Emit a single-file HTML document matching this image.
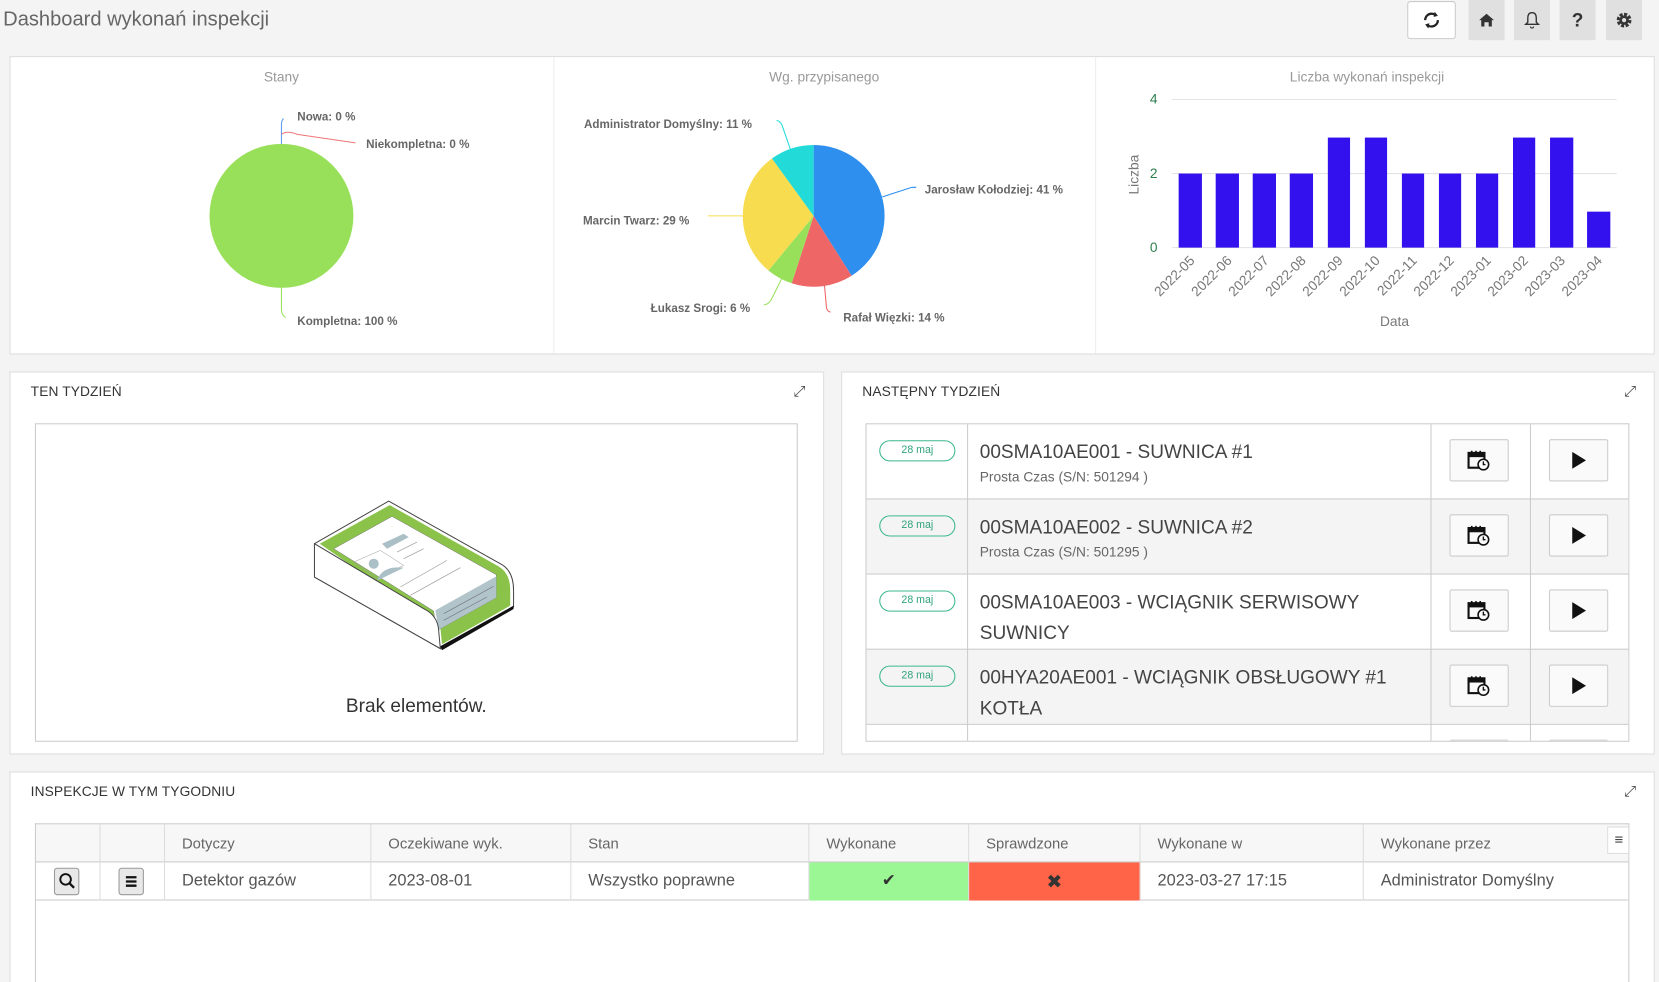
<!DOCTYPE html>
<html><head><meta charset="utf-8"><style>
html,body{margin:0;padding:0;background:#f4f4f4;overflow:hidden;width:1659px;height:982px}
#w{position:absolute;left:0;top:0;width:1568px;height:928px;overflow:hidden;transform:scale(1.05804,1.0582);transform-origin:0 0;font-family:"Liberation Sans",sans-serif;color:#444}
.a{position:absolute}
.panel{position:absolute;background:#fff;border:1px solid #ddd;box-sizing:border-box}
.btn{position:absolute;background:#e0e0e0;display:flex;align-items:center;justify-content:center;font-weight:bold;color:#333}
.ptitle{position:absolute;font-size:13px;color:#333;letter-spacing:0.1px}
.lbl{font-size:11px;font-weight:bold;fill:#666}
.hd{position:absolute;top:0;height:36px;line-height:36px;font-size:14px;color:#666;padding-left:16px;box-sizing:border-box;border-right:1px solid #ddd}
.cell{position:absolute;top:36px;height:36px;line-height:36px;font-size:15.5px;color:#555;padding-left:16px;box-sizing:border-box;border-right:1px solid #ddd}
.badge{position:absolute;left:12px;top:16px;width:72px;height:20px;border:1.3px solid #3cb88c;border-radius:10px;font-size:10px;color:#2fa37a;text-align:center;line-height:18px;box-sizing:border-box}
.sbtn{position:absolute;width:56px;height:40px;background:#fafafa;border:1px solid #ccc;border-radius:2px;box-sizing:border-box;display:flex;align-items:center;justify-content:center}
</style></head><body><div id="w">
<div class="a" style="left:3px;top:8px;font-size:19px;color:#666">Dashboard wykonań inspekcji</div>
<div class="btn" style="left:1330px;top:1px;width:46px;height:36px;background:#fff;border:1px solid #ccc;border-radius:3px;box-sizing:border-box"><svg width="18" height="18" viewBox="0 0 18 18"><path d="M3 9a6 6 0 0 1 10.5-4" stroke="#222" stroke-width="2.2" fill="none"/><path d="M15 9a6 6 0 0 1-10.5 4" stroke="#222" stroke-width="2.2" fill="none"/><path d="M12 1l3 4-4 1z" fill="#222"/><path d="M6 17l-3-4 4-1z" fill="#222"/></svg></div>
<div class="btn" style="left:1388px;top:0;width:34px;height:38px"><svg width="16" height="16" viewBox="0 0 16 16"><path d="M1 8L8 2l7 6h-2v6H10v-4H6v4H3V8z" fill="#333"/></svg></div>
<div class="btn" style="left:1431px;top:0;width:34px;height:38px"><svg width="16" height="18" viewBox="0 0 16 18"><path d="M8 2c-3 0-4 2-4 5v4l-2 2h12l-2-2V7c0-3-1-5-4-5z" stroke="#333" stroke-width="1.3" fill="none"/><path d="M6.5 15a1.5 1.5 0 0 0 3 0" stroke="#333" fill="none"/></svg></div>
<div class="btn" style="left:1474px;top:0;width:34px;height:38px;font-size:18px">?</div>
<div class="btn" style="left:1518px;top:0;width:34px;height:38px"><svg width="16" height="16" viewBox="0 0 16 16"><circle cx="8" cy="8" r="5" fill="none" stroke="#333" stroke-width="4" stroke-dasharray="2.6 1.3"/><circle cx="8" cy="8" r="4.5" fill="#333"/><circle cx="8" cy="8" r="2" fill="#e0e0e0"/></svg></div>

<div class="panel" style="left:9px;top:53px;width:1555px;height:282px"></div>
<div class="a" style="left:523px;top:54px;width:1px;height:280px;background:#eee"></div>
<div class="a" style="left:1035px;top:54px;width:1px;height:280px;background:#eee"></div>
<svg class="a" style="left:0;top:0" width="1568" height="340">
<text x="266" y="77" text-anchor="middle" font-size="13" fill="#999">Stany</text>
<text x="779" y="77" text-anchor="middle" font-size="13" fill="#999">Wg. przypisanego</text>
<text x="1292" y="77" text-anchor="middle" font-size="13" fill="#999">Liczba wykonań inspekcji</text>
<circle cx="266" cy="204" r="68" fill="#98e05a"/>
<path d="M266 136 V118 q0-4 2-6" stroke="#5b9cf0" fill="none"/>
<path d="M266 127 q5-4 15 0 l55 8" stroke="#ee7777" fill="none"/>
<path d="M266 272 v20 q0 6 4 8" stroke="#98e05a" fill="none"/>
<text x="281" y="114" class="lbl">Nowa: 0 %</text>
<text x="346" y="140" class="lbl">Niekompletna: 0 %</text>
<text x="281" y="307" class="lbl">Kompletna: 100 %</text>
<path d="M769 204 L769 137 A67 67 0 0 1 804.9 260.6Z" fill="#2f8fee"/>
<path d="M769 204 L804.9 260.6 A67 67 0 0 1 748.3 267.7Z" fill="#ee6666"/>
<path d="M769 204 L748.3 267.7 A67 67 0 0 1 726.3 255.6Z" fill="#98e05a"/>
<path d="M769 204 L726.3 255.6 A67 67 0 0 1 729.6 149.8Z" fill="#f7dc4f"/>
<path d="M769 204 L729.6 149.8 A67 67 0 0 1 769 137Z" fill="#22dbd8"/>
<path d="M834 186 l28-9 h4" stroke="#2f8fee" fill="none"/>
<path d="M779 267 l2 22 q0 5 4 6" stroke="#ee6666" fill="none"/>
<path d="M739 263 l-10 20 q-3 5 -7 5" stroke="#98e05a" fill="none"/>
<path d="M705 204 h-36" stroke="#f7dc4f" fill="none"/>
<path d="M747 141 l-8-23 q-2-4 -5-4" stroke="#22dbd8" fill="none"/>
<text x="874" y="183" class="lbl">Jarosław Kołodziej: 41 %</text>
<text x="797" y="304" class="lbl">Rafał Więzki: 14 %</text>
<text x="615" y="295" class="lbl">Łukasz Srogi: 6 %</text>
<text x="551" y="212" class="lbl">Marcin Twarz: 29 %</text>
<text x="552" y="121" class="lbl">Administrator Domyślny: 11 %</text>
<g stroke="#e3e3e3"><line x1="1108" y1="94" x2="1528" y2="94"/><line x1="1108" y1="164" x2="1528" y2="164"/><line x1="1108" y1="234" x2="1528" y2="234"/></g>
<g font-size="13" fill="#2e7d4f" text-anchor="end"><text x="1094" y="98">4</text><text x="1094" y="168">2</text><text x="1094" y="238">0</text></g>
<text transform="translate(1076,165) rotate(-90)" text-anchor="middle" font-size="13" fill="#777">Liczba</text>
<text x="1318" y="308" text-anchor="middle" font-size="13" fill="#777">Data</text>
<g fill="#3311ee">
<rect x="1114" y="164" width="22" height="70"/><rect x="1149" y="164" width="22" height="70"/><rect x="1184" y="164" width="22" height="70"/><rect x="1219" y="164" width="22" height="70"/><rect x="1255" y="130" width="21" height="104"/><rect x="1290" y="130" width="21" height="104"/><rect x="1325" y="164" width="21" height="70"/><rect x="1360" y="164" width="21" height="70"/><rect x="1395" y="164" width="21" height="70"/><rect x="1430" y="130" width="21" height="104"/><rect x="1465" y="130" width="22" height="104"/><rect x="1500" y="200" width="22" height="34"/>
</g>
<g font-size="13" fill="#777" text-anchor="end">
<text transform="translate(1130,247) rotate(-45)">2022-05</text><text transform="translate(1165,247) rotate(-45)">2022-06</text><text transform="translate(1200,247) rotate(-45)">2022-07</text><text transform="translate(1235,247) rotate(-45)">2022-08</text><text transform="translate(1270,247) rotate(-45)">2022-09</text><text transform="translate(1305,247) rotate(-45)">2022-10</text><text transform="translate(1340,247) rotate(-45)">2022-11</text><text transform="translate(1375,247) rotate(-45)">2022-12</text><text transform="translate(1410,247) rotate(-45)">2023-01</text><text transform="translate(1445,247) rotate(-45)">2023-02</text><text transform="translate(1480,247) rotate(-45)">2023-03</text><text transform="translate(1515,247) rotate(-45)">2023-04</text>
</g>
</svg>

<div class="panel" style="left:9px;top:351px;width:770px;height:362px"></div>
<div class="ptitle" style="left:29px;top:362px">TEN TYDZIEŃ</div>
<div class="a" style="left:750px;top:361px;font-size:14px;color:#444">⤢</div>
<div class="a" style="left:33px;top:400px;width:721px;height:301px;border:1px solid #ccc;box-sizing:border-box"></div>
<svg class="a" style="left:283.5px;top:453.7px" width="236" height="170" viewBox="0 0 750 540">
<path d="M42,190 L265,62 L600,250 Q640,270 640,330 L640,380 L420,505 L42,290 Z" fill="#fff" stroke="#444" stroke-width="3"/>
<path d="M58,190 L268,74 L595,258 Q630,278 630,330 L630,376 L425,492 L420,440 Z" fill="#8bc34a"/>
<path d="M100,205 L275,108 L588,283 L588,352 L408,452 L400,392 Z" fill="#fff" stroke="#777" stroke-width="1.5"/>
<path d="M405,390 L588,288 L588,352 L415,448 Z" fill="#b0c4c9"/>
<path d="M430,400 L580,318 M430,420 L560,350" stroke="#778" stroke-width="2"/>
<path d="M160,245 L240,210 L310,255 L230,295 Z" fill="none" stroke="#999" stroke-width="1.5"/>
<path d="M245,190 L310,160 L325,170 L260,205 Z" fill="#aabfc6"/>
<circle cx="220" cy="250" r="15" fill="#aabfc6"/>
<path d="M232,295 Q250,255 310,262 L232,300 Z" fill="#aabfc6"/>
<path d="M290,215 L350,185 M310,235 L370,205 M300,320 L440,240 M330,345 L480,262" stroke="#999" stroke-width="2"/>
<path d="M42,190 L370,385 Q412,405 415,450 L420,505 L42,290 Z" fill="#fff" stroke="#444" stroke-width="3"/>
<path d="M420,498 L640,376 L640,386 L425,510 Z" fill="#111"/>
</svg>
<div class="a" style="left:33px;top:657px;width:721px;text-align:center;font-size:18px;color:#333">Brak elementów.</div>

<div class="panel" style="left:795px;top:351px;width:769px;height:362px"></div>
<div class="ptitle" style="left:815px;top:362px">NASTĘPNY TYDZIEŃ</div>
<div class="a" style="left:1535px;top:361px;font-size:14px;color:#444">⤢</div>
<div id="tbl" class="a" style="left:818px;top:400px;width:722px;height:301px;border:1px solid #ccc;box-sizing:border-box;overflow:hidden;background:#fff">
 <div class="a" style="left:0;top:70px;width:722px;height:71px;background:#f4f4f4"></div>
 <div class="a" style="left:0;top:212px;width:722px;height:71px;background:#f4f4f4"></div>
 <div class="a" style="left:0;top:70px;width:722px;height:1px;background:#ccc"></div>
 <div class="a" style="left:0;top:141px;width:722px;height:1px;background:#ccc"></div>
 <div class="a" style="left:0;top:212px;width:722px;height:1px;background:#ccc"></div>
 <div class="a" style="left:0;top:283px;width:722px;height:1px;background:#ccc"></div>
 <div class="a" style="left:95px;top:0;width:1px;height:301px;background:#ccc"></div>
 <div class="a" style="left:533px;top:0;width:1px;height:301px;background:#ccc"></div>
 <div class="a" style="left:627px;top:0;width:1px;height:301px;background:#ccc"></div>
</div>

<div class="panel" style="left:9px;top:729px;width:1555px;height:199px;border-bottom:none"></div>
<div class="ptitle" style="left:29px;top:740px">INSPEKCJE W TYM TYGODNIU</div>
<div class="a" style="left:1535px;top:739px;font-size:14px;color:#444">⤢</div>
<div class="a" style="left:33px;top:778px;width:1507px;height:150px;border:1px solid #ccc;border-bottom:none;box-sizing:border-box;background:#fff;overflow:hidden">
 <div class="a" style="left:0;top:0;width:1507px;height:36px;background:#f7f7f7;border-bottom:1px solid #ccc;box-sizing:border-box"></div>
 <div class="a" style="left:0;top:71px;width:1507px;height:1px;background:#ccc"></div>
 <div class="hd" style="left:0;width:61px"></div><div class="hd" style="left:61px;width:61px"></div>
 <div class="hd" style="left:122px;width:195px">Dotyczy</div><div class="hd" style="left:317px;width:189px">Oczekiwane wyk.</div><div class="hd" style="left:506px;width:225px">Stan</div><div class="hd" style="left:731px;width:151px">Wykonane</div><div class="hd" style="left:882px;width:162px">Sprawdzone</div><div class="hd" style="left:1044px;width:211px">Wykonane w</div><div class="hd" style="left:1255px;width:252px;border:none">Wykonane przez</div>
 <div class="a" style="left:1485px;top:2px;width:20px;height:24px;background:#fff;border:1px solid #ddd;font-size:14px;text-align:center;line-height:22px">≡</div>
 <div class="cell" style="left:0;width:61px"><div class="a" style="left:17px;top:5px;width:24px;height:26px;background:#e8e8e8;border:1px solid #999;border-radius:3px;box-sizing:border-box"><svg width="22" height="24" viewBox="0 0 22 24"><circle cx="10" cy="10" r="5" fill="none" stroke="#111" stroke-width="1.8"/><path d="M13.5 13.5L18 18" stroke="#111" stroke-width="2.2"/></svg></div></div>
 <div class="cell" style="left:61px;width:61px"><div class="a" style="left:17px;top:5px;width:24px;height:26px;background:#e8e8e8;border:1px solid #999;border-radius:3px;box-sizing:border-box"><svg width="22" height="24" viewBox="0 0 22 24"><path d="M6 8h10M6 12h10M6 16h10" stroke="#111" stroke-width="2.2"/></svg></div></div>
 <div class="cell" style="left:122px;width:195px">Detektor gazów</div><div class="cell" style="left:317px;width:189px">2023-08-01</div><div class="cell" style="left:506px;width:225px">Wszystko poprawne</div>
 <div class="cell" style="left:731px;width:151px;background:#9af794;text-align:center;padding:0;color:#333">✔</div>
 <div class="cell" style="left:882px;width:162px;background:#ff6449;text-align:center;padding:0;color:#333;font-size:18px">✖</div>
 <div class="cell" style="left:1044px;width:211px">2023-03-27 17:15</div><div class="cell" style="left:1255px;width:252px;border:none">Administrator Domyślny</div>
</div>
</div>
<script>
var d=[["00SMA10AE001 - SUWNICA #1","Prosta Czas (S/N: 501294 )"],["00SMA10AE002 - SUWNICA #2","Prosta Czas (S/N: 501295 )"],["00SMA10AE003 - WCIĄGNIK SERWISOWY<br>SUWNICY",""],["00HYA20AE001 - WCIĄGNIK OBSŁUGOWY #1<br>KOTŁA",""]];
var h="";
for(var i=0;i<5;i++){var t=71*i-1;
 var cal='<svg width="22" height="20" viewBox="0 0 22 20"><rect x="1" y="3" width="15" height="14" fill="none" stroke="#111" stroke-width="2"/><rect x="1" y="3" width="15" height="4" fill="#111"/><path d="M4 1v3M8 1v3M12 1v3" stroke="#111" stroke-width="1.5"/><circle cx="15" cy="14" r="5" fill="#fafafa" stroke="#111" stroke-width="1.5"/><path d="M15 11v3h2" stroke="#111" stroke-width="1.3" fill="none"/></svg>';
 if(i<4){h+='<div class="a" style="left:0;top:'+t+'px;width:96px;height:71px"><div class="badge">28 maj</div></div>';
 h+='<div class="a" style="left:107px;top:'+(t+13)+'px;font-size:18px;color:#444;line-height:29px">'+d[i][0]+'</div>';
 if(d[i][1])h+='<div class="a" style="left:107px;top:'+(t+43)+'px;font-size:13px;color:#666">'+d[i][1]+'</div>';}
 h+='<div class="sbtn" style="left:551px;top:'+(t+15)+'px">'+(i<4?cal:'')+'</div>';
 h+='<div class="sbtn" style="left:645px;top:'+(t+15)+'px">'+(i<4?'<svg width="14" height="16"><path d="M1 0L14 8 1 16Z" fill="#111"/></svg>':'')+'</div>';}
document.getElementById('tbl').insertAdjacentHTML('beforeend',h);
</script>
</body></html>
